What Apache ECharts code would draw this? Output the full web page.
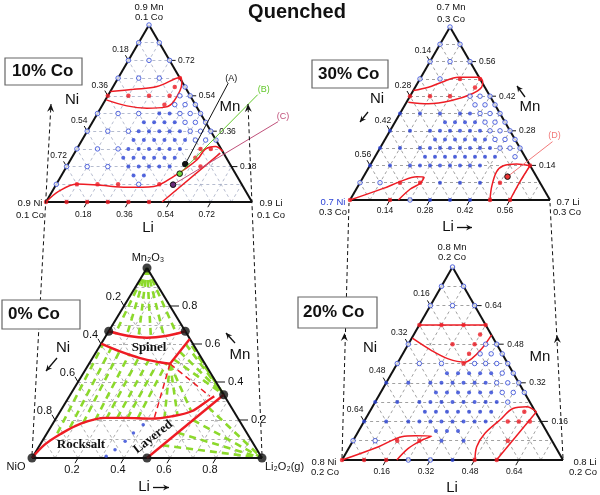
<!DOCTYPE html>
<html><head><meta charset="utf-8">
<script src="https://cdn.jsdelivr.net/npm/echarts@6/dist/echarts.min.js"></script>
<style>html,body{margin:0;padding:0;background:#fff}#c{width:600px;height:495px}</style>
</head><body><div id="c"></div>
<script>
// All compositions below are given in grid steps (1 step = panel total / 10): [Li, Mn]
// ---------------- 10% Co panel ----------------
const co10Total = 0.9;
const co10Ticks = [0.18, 0.36, 0.54, 0.72];
const co10Open = [[0,10],[0,9],[1,9],[0,8],[1,8],[2,8],[0,7],[1,7],[2,7],
  [3.5,6.5],[3.5,6],[4,6],[3.5,5.5],[4,5.5],[4.5,5.5],
  [0,5],[1,5],[2,5],[4,5],[4.5,5],[5,5],[4.5,4.5],[5,4.5],[5.5,4.5],
  [0,4],[1,4],[2,4],[5,4],[5.5,4],[6,4],[5.5,3.5],[6,3.5],[6.5,3.5],
  [0,3],[1,3],[2,3],[0,2],[1,2],[2,2],[0,1],[4,1]];
const co10Filled = [[3,5],[3.5,5],[2.5,4.5],[3,4.5],[3.5,4.5],[4,4.5],
  [2.5,4],[3,4],[3.5,4],[4,4],[4.5,4],
  [2.5,3.5],[3,3.5],[3.5,3.5],[4,3.5],[4.5,3.5],[5,3.5],
  [2.5,3],[3,3],[3.5,3],[4,3],[4.5,3],[5,3],
  [2.5,2.5],[3,2.5],[3.5,2.5],[4,2.5],[4.5,2.5],[5,2.5],
  [3,2],[3.5,2],[4,2],[4.5,2],[5,2],[3.5,1.5],[4,1.5]];
const co10Red = [[3,7],[3,6.5],[0,6],[1,6],[2,6],[3,6],[3,5.5],
  [6,3],[6.5,3],[6,2.5],[6.5,2],[1,1],[2,1],[3,1],[5,1],
  [0,0],[1,0],[2,0],[3,0],[4,0],[5,0]];
const co10Bounds = [
  [[0,6.24],[1.07,6.37],[2.13,6.52],[3.01,7.03],[3.24,6.71],[3.36,5.68],[3.11,5.36],[2.25,5.3],[1.21,5.43],[0.04,5.77]],
  [[0,0],[0.31,0.6],[0.99,1.02],[2.17,0.94],[3.52,0.83],[4.79,0.88],[5.48,1.45],[6.14,2.39],[6.24,2.99],[6.65,3.14],[7.16,2.86]],
  [[5.63,0],[7.08,2.76]]];
const co10Marks = [[5.69,2.14],[5.69,1.6],[5.68,0.98]];
const co10MarkNames = ['(A)','(B)','(C)'];

// ---------------- 30% Co panel ----------------
const co30Total = 0.7;
const co30Ticks = [0.14, 0.28, 0.42, 0.56];
const co30Open = [[0,10],[0,9],[1,9],[0,8],[1,8],[2,8],[0,7],[1,7],
  [3,6],[3.5,6],[4,6],[3.5,5.5],[4,5.5],[4.5,5.5],[4,5],[4.5,5],[5,5],
  [4.5,4.5],[5,4.5],[5.5,4.5],[5,4],[5.5,4],[6,4],[5.5,3.5],[6,3.5],[6.5,3.5],
  [6,3],[6.5,3],[7,3],[7,2.5],[0,1],[1,1],[3,0]];
const co30Filled = [[0,5],[1,5],[2,5],[3,5],[3.5,5],[2.5,4.5],[3,4.5],[3.5,4.5],[4,4.5],
  [0,4],[1,4],[2,4],[2.5,4],[3,4],[3.5,4],[4,4],[4.5,4],
  [2.5,3.5],[3,3.5],[3.5,3.5],[4,3.5],[4.5,3.5],[5,3.5],
  [0,3],[1,3],[2,3],[2.5,3],[3,3],[3.5,3],[4,3],[4.5,3],[5,3],[5.5,3],
  [2.5,2.5],[3,2.5],[3.5,2.5],[4,2.5],[4.5,2.5],[5,2.5],[5.5,2.5],[6,2.5],
  [0,2],[1,2],[2,2],[2.5,2],[3,2],[3.5,2],[4,2],[4.5,2],[5,2],[5.5,2],
  [4,1],[5,1],[6,1],[4,0],[5,0],[6,0]];
const co30Red = [[2,7],[3,7],[3,6.5],[0,6],[1,6],[2,6],[2,1],[3,1],[0,0],[2,0],
  [7,1],[8,2],[7,0],[8,0]];
const co30Bounds = [
  [[0,6.33],[0.66,6.52],[1.18,6.81],[1.87,7.1],[2.87,7.1],[3.22,6.83],[3.32,6.52],[3.02,6.13],[2.2,5.75],[1.14,5.56],[0.09,5.65]],
  [[0,0],[1.33,0.67],[1.97,1.06],[2.66,1.35],[3.05,1.31],[3.02,0.96],[2.69,0.62],[2.42,0]],
  [[7,0],[6.7,0.77],[6.51,1.63],[6.68,1.98],[7.29,2.08],[8.01,1.98]],
  [[8,0],[7.97,1.06],[8.01,1.98]]];
const co30Marks = [[7.2,1.35]];
const co30MarkNames = ['(D)'];

// ---------------- 20% Co panel ----------------
const co20Total = 0.8;
const co20Ticks = [0.16, 0.32, 0.48, 0.64];
const co20Open = [[0,10],[0,9],[1,9],[0,8],[1,8],[2,8],[0,6],[3.5,6],[4,6],
  [3.5,5.5],[4,5.5],[4.5,5.5],[0,5],[1,5],[2,5],[3.5,5],[4,5],[4.5,5],[5,5],
  [5,4.5],[5.5,4.5],[5,4],[5.5,4],[6,4],[5.5,3.5],[6,3.5],[6.5,3.5],[6,3],
  [0,1],[1,1],[3,0],[4,0]];
const co20Filled = [[2.5,4.5],[3,4.5],[3.5,4.5],[4,4.5],[4.5,4.5],
  [0,4],[1,4],[2,4],[2.5,4],[3,4],[3.5,4],[4,4],[4.5,4],
  [2.5,3.5],[3,3.5],[3.5,3.5],[4,3.5],[4.5,3.5],[5,3.5],
  [0,3],[1,3],[2,3],[2.5,3],[3,3],[3.5,3],[4,3],[4.5,3],[5,3],[5.5,3],
  [2.5,2.5],[3,2.5],[3.5,2.5],[4,2.5],[4.5,2.5],[5,2.5],[5.5,2.5],
  [0,2],[1,2],[2,2],[2.5,2],[3,2],[3.5,2],[4,2],[4.5,2],[5,2],[5.5,2],
  [3.5,1.5],[4,1.5],[4.5,1.5],[4,1],[5,1],[5,0]];
const co20Red = [[0,7],[1,7],[2,7],[3,7],[3,6.5],[2,6],[3,6],[3,5.5],[3,5],
  [7,2.5],[6.5,2],[7,2],[7.5,2],[7,1],[6,0],[7,0],[2,1],[3,1],[0,0],[1,0],[2,0]];
const co20Bounds = [
  [[0,7],[3,7]],
  [[0.03,6.31],[1.22,5.67],[2.19,5.24],[3.03,5.07],[3.24,5.24],[3.44,5.76],[3.53,6.48]],
  [[0,0],[1.31,0.69],[2.1,1.21],[2.68,1.26],[3.44,1.24],[3.04,0.98],[2.7,0.6],[2.48,0]],
  [[6.02,0],[5.75,0.69],[5.78,1.38],[6.11,2.07],[6.4,2.67],[6.97,2.76],[7.55,2.5]],
  [[6.99,0],[7.55,2.5]]];

// ---------------- 0% Co panel ----------------
const co0Total = 1.0;
const co0Ticks = [0.2, 0.4, 0.6, 0.8];
const co0Phases = [[0,10],[0,0],[10,0],[0,6.67],[3.33,6.67],[6.67,3.33],[5,0]];
const co0Blue = [[3.96,1.75],[3.75,1.32],[3.61,0.88],[3.39,0.44],[3.18,0.09]];
const co0Bounds = [
  [[0,6.67],[1.0,6.42],[1.83,6.33],[2.6,6.42],[3.33,6.67]],
  [[0,6.02],[1.02,5.61],[2.07,5.26],[3.04,5.04],[3.52,4.96]],
  [[3.52,4.96],[3.73,6.26]],
  [[0,0],[0.2,0.7],[0.6,1.25],[1.2,1.8],[2.13,2.11],[3.0,2.11],[4.17,2.07],[4.97,2.19],[5.71,2.46],[6.1,2.98],[6.3,3.25]],
  [[5,0],[6.67,3.33]]];
const co0Dashed = [[[3.52,4.96],[4.31,1.93]], [[3.52,4.96],[6.11,3.25]]];
const co0Ties = [
  [[0,10],[0.35,6.52]],[[0,10],[0.9,6.43]],[[0,10],[1.45,6.36]],[[0,10],[2.0,6.34]],[[0,10],[2.55,6.38]],[[0,10],[3.05,6.5]],
  [[0.45,1.3],[0.1,5.95]],[[0.85,1.6],[0.55,5.78]],[[1.3,1.85],[1.0,5.62]],[[1.75,2.0],[1.5,5.44]],
  [[2.2,2.08],[2.0,5.29]],[[2.65,2.1],[2.5,5.17]],[[3.1,2.1],[2.95,5.07]],[[3.55,2.09],[3.35,5.0]],
  [[3.52,4.96],[4.7,2.12]],[[3.52,4.96],[5.2,2.25]],[[3.52,4.96],[5.7,2.45]],
  [[3.56,5.2],[6.67,3.33]],[[3.62,5.6],[6.67,3.33]],[[3.68,6.0],[6.67,3.33]],[[4.0,5.9],[6.67,3.33]],[[4.6,5.3],[6.67,3.33]],
  [[5.33,0.67],[10,0]],[[5.67,1.33],[10,0]],[[6.0,2.0],[10,0]],[[6.33,2.67],[10,0]]];

// ================= layout / style =================
const FONT = '"Liberation Sans", Arial, sans-serif';
const SERIF = '"Liberation Serif", "Times New Roman", serif';
const BLUE = '#2c43d6', RED = '#ee1c24';

const panels = [
  {box:{left:46, top:25, width:206, height:177}, total:co10Total, ticks:co10Ticks, open:co10Open, filled:co10Filled, red:co10Red,
   bounds:co10Bounds, straight:[false,false,true], gridColor:'#a3abc3', tf:8.5, offL:[-8,-10.5], offR:8.5, offB:[-4,13], tickR:6,
   marks:co10Marks, markNames:co10MarkNames,
   markStyle:[{fill:'#111', line:'#111', d:[43,-81], t:[3,-5]},
              {fill:'#6fd23a', line:'#62c82a', d:[78,-79], t:[6,-5]},
              {fill:'#6a2a7a', line:'#c0507a', d:[105,-63], t:[5,-5]}]},
  {box:{left:350, top:27, width:200, height:173}, total:co30Total, ticks:co30Ticks, open:co30Open, filled:co30Filled, red:co30Red,
   bounds:co30Bounds, straight:[false,false,false,false], gridColor:'#8a8a8a', tf:8.5, offL:[-7,-10.5], offR:9, offB:[-5,11], tickR:6,
   marks:co30Marks, markNames:co30MarkNames,
   markStyle:[{fill:'#e33', line:'#f27a7a', d:[45,-35], t:[2,-6]}]},
  {box:{left:32, top:268, width:230, height:190}, total:co0Total, ticks:co0Ticks, open:[], filled:[], red:[],
   bounds:co0Bounds, straight:[false,false,true,false,true], gridColor:'#9a9a9a', tf:11, offL:[-10.5,-9.5], offR:12, offB:[-6,12], tickR:9,
   marks:[], markNames:[], markStyle:[]},
  {box:{left:342, top:267, width:221, height:193}, total:co20Total, ticks:co20Ticks, open:co20Open, filled:co20Filled, red:co20Red,
   bounds:co20Bounds, straight:[true,false,false,false,true], gridColor:'#8a8a8a', tf:8.5, offL:[-9,-12], offR:10.5, offB:[-4.5,11.7], tickR:7,
   marks:[], markNames:[], markStyle:[]}
];

function P(li, mn){ return [(li + mn/2)/10, mn/10]; }

const series = [];
panels.forEach((p, g) => {
  const ax = {xAxisIndex:g, yAxisIndex:g};
  const gl = [];
  for (let k = 1; k < 10; k++) {
    gl.push({coords:[P(0,k), P(10-k,k)]});
    gl.push({coords:[P(k,0), P(k,10-k)]});
    gl.push({coords:[P(10-k,0), P(0,10-k)]});
  }
  series.push({type:'lines', coordinateSystem:'cartesian2d', ...ax, data:gl, silent:true, z:1,
    lineStyle:{color:p.gridColor, width:0.8, type:[3,3], opacity:1}});
  if (g === 2) {
    series.push({type:'lines', coordinateSystem:'cartesian2d', ...ax, silent:true, z:2,
      data:co0Ties.map(t => ({coords:[P(...t[0]), P(...t[1])]})),
      lineStyle:{color:'#8cd92c', width:2.6, type:[7,5], opacity:1}});
    series.push({type:'lines', coordinateSystem:'cartesian2d', ...ax, silent:true, z:4,
      data:co0Dashed.map(t => ({coords:[P(...t[0]), P(...t[1])]})),
      lineStyle:{color:RED, width:1.5, type:[6,4], opacity:1}});
  }
  // triangle border
  series.push({type:'lines', coordinateSystem:'cartesian2d', ...ax, silent:true, z:5,
    data:[{coords:[P(0,0),P(10,0)]},{coords:[P(10,0),P(0,10)]},{coords:[P(0,10),P(0,0)]}],
    lineStyle:{color:'#111', width:2, opacity:1}});
  // boundaries
  p.bounds.forEach((b, i) => {
    series.push({type:'line', ...ax, data:b.map(d => P(d[0], d[1])), smooth:p.straight[i] ? false : 0.35,
      showSymbol:false, silent:true, z:6, clip:false,
      lineStyle:{color:RED, width:(g === 2 ? 2.4 : 1.5)}});
  });
  series.push({type:'scatter', ...ax, data:p.open.map(d => P(d[0], d[1])), symbol:'circle', symbolSize:4.5,
    itemStyle:{color:'#fff', borderColor:BLUE, borderWidth:1}, silent:true, z:8, clip:false});
  series.push({type:'scatter', ...ax, data:p.filled.map(d => P(d[0], d[1])), symbol:'circle', symbolSize:4,
    itemStyle:{color:BLUE}, silent:true, z:8, clip:false});
  series.push({type:'scatter', ...ax, data:p.red.map(d => P(d[0], d[1])), symbol:'circle', symbolSize:4.5,
    itemStyle:{color:RED}, silent:true, z:8, clip:false});
  if (g === 2) {
    series.push({type:'scatter', ...ax, data:co0Blue.map(d => P(d[0], d[1])), symbolSize:3.5,
      itemStyle:{color:BLUE}, silent:true, z:8, clip:false});
    series.push({type:'scatter', ...ax, data:co0Phases.map(d => P(d[0], d[1])), symbolSize:9,
      itemStyle:{color:'#111'}, silent:true, z:9, clip:false});
  }
  // ticks and tick labels
  const td = [];
  p.ticks.forEach(v => { td.push([v,0]); td.push([v,1]); td.push([v,2]); });
  series.push({type:'custom', ...ax, data:td, silent:true, z:7, clip:false,
    renderItem:(params, api) => {
      const v = api.value(0), side = api.value(1);
      const s = v / p.total * 10;
      let pt, dx, dy, lx, ly, al;
      if (side === 0) { pt = api.coord(P(0, 10 - s)); dx = -3; dy = -5.2; lx = pt[0] + p.offL[0]; ly = pt[1] + p.offL[1]; al = 'center'; }
      else if (side === 1) { pt = api.coord(P(10 - s, s)); dx = p.tickR; dy = 0; lx = pt[0] + p.offR; ly = pt[1]; al = 'left'; }
      else { pt = api.coord(P(s, 0)); dx = -3; dy = 5.2; lx = pt[0] + p.offB[0]; ly = pt[1] + p.offB[1]; al = 'center'; }
      return {type:'group', children:[
        {type:'line', shape:{x1:pt[0], y1:pt[1], x2:pt[0]+dx, y2:pt[1]+dy}, style:{stroke:'#111', lineWidth:1}},
        {type:'text', style:{x:lx, y:ly, text:String(v), fill:'#111', font:p.tf + 'px ' + FONT,
          textAlign:al, textVerticalAlign:'middle', align:al, verticalAlign:'middle'}}
      ]};
    }});
  // annotated compositions
  if (p.marks.length) {
    series.push({type:'custom', ...ax, data:p.marks.map((m, i) => [m[0], m[1], i]), silent:true, z:9, clip:false,
      renderItem:(params, api) => {
        const pt = api.coord(P(api.value(0), api.value(1)));
        const i = api.value(2), st = p.markStyle[i];
        const ex = pt[0] + st.d[0], ey = pt[1] + st.d[1];
        return {type:'group', children:[
          {type:'line', shape:{x1:pt[0], y1:pt[1], x2:ex, y2:ey}, style:{stroke:st.line, lineWidth:1}},
          {type:'circle', shape:{cx:pt[0], cy:pt[1], r:2.8}, style:{fill:st.fill, stroke:'#111', lineWidth:1}},
          {type:'text', style:{x:ex + st.t[0], y:ey + st.t[1], text:p.markNames[i], fill:st.line,
            font:'9px ' + FONT, textAlign:'center', textVerticalAlign:'middle', align:'center', verticalAlign:'middle'}}
        ]};
      }});
  }
});

// ---------- static annotation graphics ----------
const G = [];
function T(x, y, s, font, o) {
  o = o || {};
  const al = o.align || 'center';
  G.push({type:'text', x:x, y:y, rotation:o.rot || 0, z:50,
    style:{text:s, font:font, fill:o.fill || '#111', textAlign:al, textVerticalAlign:'middle', align:al, verticalAlign:'middle'}});
}
function head(tx, ty, ux, uy, len, half) {
  const bx = tx - ux*len, by = ty - uy*len, px = -uy, py = ux;
  G.push({type:'polygon', z:45, shape:{points:[[tx,ty],[bx+px*half,by+py*half],[tx-ux*len*0.65,ty-uy*len*0.65],[bx-px*half,by-py*half]]},
    style:{fill:'#111'}});
}
function arrow(x1, y1, x2, y2, dashed, hx, hy) {
  G.push({type:'line', z:44, shape:{x1, y1, x2, y2}, style:{stroke:'#111', lineWidth:dashed ? 1 : 1.3, lineDash:dashed ? [4,3] : null}});
  const L = Math.hypot(x2-x1, y2-y1), ux = (x2-x1)/L, uy = (y2-y1)/L;
  head(hx === undefined ? x2 : hx, hy === undefined ? y2 : hy, ux, uy, dashed ? 8 : 6, dashed ? 3.5 : 3);
}
// connectors between panels
arrow(32, 455, 51, 104, true);
arrow(262, 455, 248, 104, true);
arrow(342, 458, 349, 203, true, 344.5, 333);
arrow(563, 458, 550, 203, true, 557, 335);
// boxes
[[5,58,77,27],[312,60,76,28],[2,300,78,29],[298,297,79,31]].forEach(b => {
  G.push({type:'rect', z:46, shape:{x:b[0], y:b[1], width:b[2], height:b[3]}, style:{fill:'#fff', stroke:'#666', lineWidth:1.2}});
});
const BOLD17 = 'bold 17px ' + FONT;
T(12, 71.5, '10% Co', BOLD17, {align:'left'});
T(318, 74, '30% Co', BOLD17, {align:'left'});
T(8, 314.5, '0% Co', BOLD17, {align:'left'});
T(303, 312.5, '20% Co', BOLD17, {align:'left'});
T(297, 12, 'Quenched', 'bold 20px ' + FONT);
// axis names
const AX = '15px ' + FONT;
T(72, 100, 'Ni', AX); T(230, 107, 'Mn', AX); T(148, 228, 'Li', AX);
T(377, 99, 'Ni', AX); T(530, 107, 'Mn', AX); T(448, 227, 'Li', AX);
T(63, 348, 'Ni', AX); T(240, 355, 'Mn', AX); T(144, 487, 'Li', AX);
T(370, 348, 'Ni', AX); T(540, 357, 'Mn', AX); T(452, 488, 'Li', AX);
arrow(457, 227.5, 472, 227.5, false);
arrow(153, 487.5, 169, 487.5, false);
arrow(368, 112, 360, 122, false);
arrow(525, 97, 517, 86, false);
arrow(57, 358, 46, 371, false);
arrow(235, 343, 226, 333, false);
// vertex labels
const VF = '9.5px ' + FONT;
T(149, 7, '0.9 Mn', VF); T(149, 17.5, '0.1 Co', VF);
T(30, 203, '0.9 Ni', VF); T(30, 215, '0.1 Co', VF);
T(271, 203, '0.9 Li', VF); T(271, 215, '0.1 Co', VF);
T(451, 7.5, '0.7 Mn', VF); T(451, 19, '0.3 Co', VF);
T(333, 202, '0.7 Ni', VF, {fill:'#2c43d6'}); T(333, 212, '0.3 Co', VF);
T(568, 202, '0.7 Li', VF); T(567, 212, '0.3 Co', VF);
T(452, 247, '0.8 Mn', VF); T(452, 257.5, '0.2 Co', VF);
T(324, 462, '0.8 Ni', VF); T(325, 472, '0.2 Co', VF);
T(585, 462, '0.8 Li', VF); T(583, 472, '0.2 Co', VF);
T(148, 258, 'Mn\u2082O\u2083', '11px ' + FONT);
T(16, 467, 'NiO', '11px ' + FONT);
T(265, 467, 'Li\u2082O\u2082(g)', '11px ' + FONT, {align:'left'});
// phase region names
T(149, 348, 'Spinel', 'bold 13px ' + SERIF);
T(81, 445, 'Rocksalt', 'bold 13px ' + SERIF);
T(153, 437, 'Layered', 'bold 13px ' + SERIF, {rot:0.66});

const chart = echarts.init(document.getElementById('c'), null, {renderer:'canvas'});
chart.setOption({
  animation:false,
  backgroundColor:'#fff',
  grid: panels.map(p => Object.assign({containLabel:false}, p.box)),
  xAxis: panels.map((p, i) => ({gridIndex:i, type:'value', min:0, max:1, show:false})),
  yAxis: panels.map((p, i) => ({gridIndex:i, type:'value', min:0, max:1, show:false})),
  series: series,
  graphic: {elements: G}
});
</script></body></html>
